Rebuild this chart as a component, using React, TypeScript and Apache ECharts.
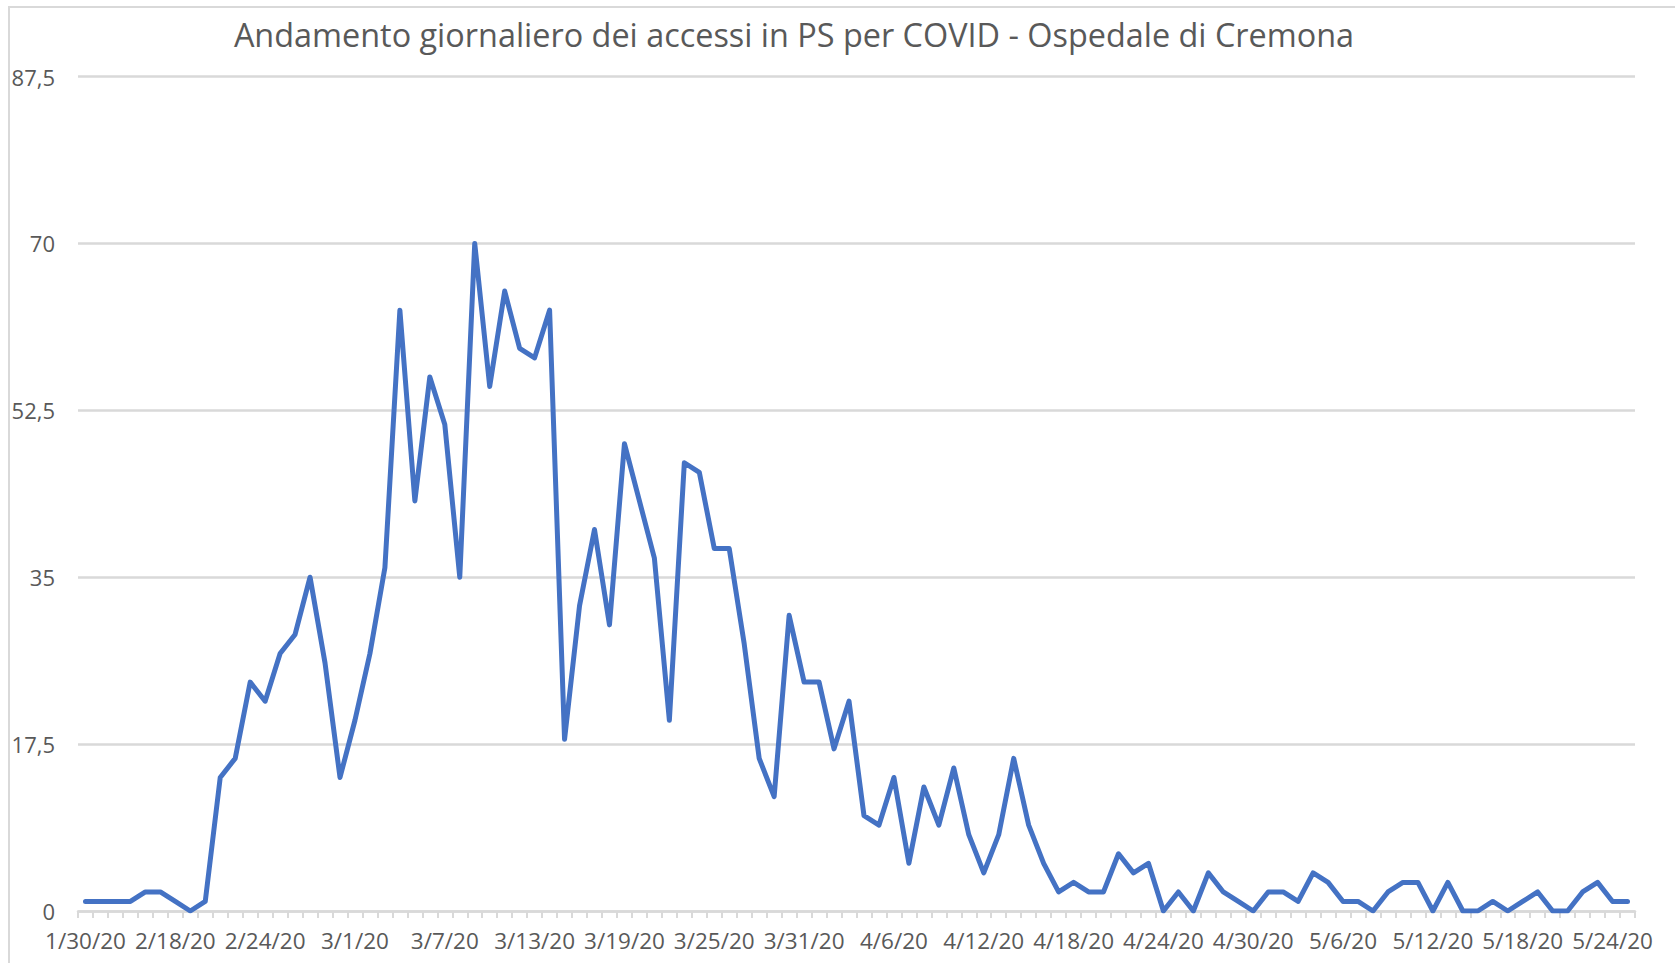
import React, { useEffect, useRef } from "react";
import * as echarts from "echarts";

const TITLE = "Andamento giornaliero dei accessi in PS per COVID - Ospedale di Cremona";

const categories: string[] = [
  "1/30/20", "1/31/20", "2/3/20", "2/7/20", "2/11/20", "2/14/20",
  "2/18/20", "2/19/20", "2/20/20", "2/21/20", "2/22/20", "2/23/20", "2/24/20", "2/25/20", "2/26/20", "2/27/20", "2/28/20", "2/29/20",
  "3/1/20", "3/2/20", "3/3/20", "3/4/20", "3/5/20", "3/6/20", "3/7/20", "3/8/20", "3/9/20", "3/10/20",
  "3/11/20", "3/12/20", "3/13/20", "3/14/20", "3/15/20", "3/16/20", "3/17/20", "3/18/20", "3/19/20", "3/20/20",
  "3/21/20", "3/22/20", "3/23/20", "3/24/20", "3/25/20", "3/26/20", "3/27/20", "3/28/20", "3/29/20", "3/30/20", "3/31/20",
  "4/1/20", "4/2/20", "4/3/20", "4/4/20", "4/5/20", "4/6/20", "4/7/20", "4/8/20", "4/9/20", "4/10/20",
  "4/11/20", "4/12/20", "4/13/20", "4/14/20", "4/15/20", "4/16/20", "4/17/20", "4/18/20", "4/19/20", "4/20/20",
  "4/21/20", "4/22/20", "4/23/20", "4/24/20", "4/25/20", "4/26/20", "4/27/20", "4/28/20", "4/29/20", "4/30/20",
  "5/1/20", "5/2/20", "5/3/20", "5/4/20", "5/5/20", "5/6/20", "5/7/20", "5/8/20", "5/9/20", "5/10/20",
  "5/11/20", "5/12/20", "5/13/20", "5/14/20", "5/15/20", "5/16/20", "5/17/20", "5/18/20", "5/19/20", "5/20/20",
  "5/21/20", "5/22/20", "5/23/20", "5/24/20", "5/25/20",
];

const accessi: number[] = [
  1, 1, 1, 1, 2, 2, 1, 0, 1,
  14, 16, 24, 22, 27, 29, 35, 26, 14, 20, 27, 36,
  63, 43, 56, 51, 35, 70, 55, 65, 59, 58, 63,
  18, 32, 40, 30, 49, 43, 37, 20, 47, 46, 38, 38, 28, 16, 12,
  31, 24, 24, 17, 22, 10, 9,
  14, 5, 13, 9, 15, 8, 4, 8, 16, 9, 5,
  2, 3, 2, 2, 6, 4, 5,
  0, 2, 0, 4, 2, 1, 0, 2, 2, 1, 4, 3, 1, 1, 0,
  2, 3, 3, 0, 3, 0, 0, 1, 0, 1, 2, 0, 0, 2, 3, 1, 1,
];

const Y_MIN = 0;
const Y_MAX = 87.5;
const Y_STEP = 17.5;

const FONT = '"Open Sans", "Noto Sans", sans-serif';
const TEXT_COLOR = "#595959";
const GRID_COLOR = "#d9d9d9";
const LINE_COLOR = "#4472C4";

export default function App() {
  const ref = useRef<HTMLDivElement>(null);

  useEffect(() => {
    if (!ref.current) return;
    const chart = echarts.init(ref.current, null, { renderer: "svg" });
    chart.setOption({
      animation: false,
      backgroundColor: "#ffffff",
      textStyle: { fontFamily: FONT },
      graphic: [
        {
          type: "rect",
          silent: true,
          z: -10,
          shape: { x: 9, y: 7, width: 4000, height: 4000 },
          style: { fill: "transparent", stroke: GRID_COLOR, lineWidth: 2 },
        },
        {
          type: "text",
          silent: true,
          x: 794,
          y: 34,
          style: {
            text: TITLE,
            fill: TEXT_COLOR,
            fontSize: 32.4,
            fontFamily: FONT,
            align: "center",
            verticalAlign: "middle",
          },
        },
      ],
      grid: { left: 78, right: 40, top: 76.5, bottom: 52, containLabel: false },
      xAxis: {
        type: "category",
        data: categories,
        boundaryGap: true,
        axisLine: { show: true, lineStyle: { color: GRID_COLOR, width: 2.5 } },
        axisTick: {
          show: true,
          interval: 0,
          length: 7,
          alignWithLabel: false,
          lineStyle: { color: GRID_COLOR, width: 2 },
        },
        axisLabel: {
          interval: 5,
          color: TEXT_COLOR,
          fontSize: 22.5,
          fontFamily: FONT,
          margin: 18,
        },
        splitLine: { show: false },
      },
      yAxis: {
        type: "value",
        min: Y_MIN,
        max: Y_MAX,
        interval: Y_STEP,
        axisLine: { show: false },
        axisTick: { show: false },
        axisLabel: {
          color: TEXT_COLOR,
          fontSize: 22,
          fontFamily: FONT,
          margin: 23,
          formatter: (v: number) => String(v).replace(".", ","),
        },
        splitLine: { show: true, lineStyle: { color: GRID_COLOR, width: 2.5 } },
      },
      series: [
        {
          type: "line",
          data: accessi,
          showSymbol: false,
          symbol: "none",
          lineStyle: { color: LINE_COLOR, width: 5, join: "round", cap: "round" },
          itemStyle: { color: LINE_COLOR },
        },
      ],
    });
    return () => chart.dispose();
  }, []);

  return (
    <div
      ref={ref}
      style={{ position: "fixed", left: 0, top: 0, width: 1675, height: 963, background: "#fff" }}
    />
  );
}
